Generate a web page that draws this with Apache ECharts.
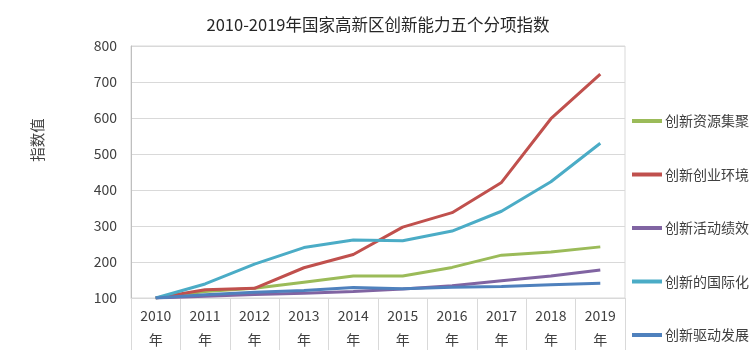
<!DOCTYPE html>
<html>
<head>
<meta charset="utf-8">
<script src="https://cdn.jsdelivr.net/npm/echarts@6/dist/echarts.min.js"></script>
<style>
    html, body { margin: 0; padding: 0; background: #fff; }
    #chart { width: 756px; height: 352px; }
</style>
</head>
<body>
<div id="chart"></div>
<script>
var years = ['2010\n年', '2011\n年', '2012\n年', '2013\n年', '2014\n年', '2015\n年', '2016\n年', '2017\n年', '2018\n年', '2019\n年'];
var resourceData = [100, 118, 127, 144, 161, 161, 185, 219, 228, 242];
var startupData = [100, 123, 127, 184, 221, 297, 337, 421, 598, 722];
var activityData = [100, 105, 110, 113, 118, 125, 134, 148, 161, 178];
var globalData = [100, 139, 194, 240, 261, 259, 286, 341, 423, 530];
var drivingData = [100, 109, 116, 121, 129, 126, 130, 132, 137, 141];
var seriesNames = ['创新资源集聚', '创新创业环境', '创新活动绩效', '创新的国际化', '创新驱动发展'];
var colors = ['#9bbb59', '#c0504d', '#8064a2', '#4bacc6', '#4f81bd'];

var font = '"Noto Sans CJK SC", sans-serif';
var chart = echarts.init(document.getElementById('chart'));

function line(i, data) {
    return {
        name: seriesNames[i],
        type: 'line',
        data: data,
        symbol: 'none',
        smooth: false,
        lineStyle: { width: 3, color: colors[i] },
        itemStyle: { color: colors[i] }
    };
}

var options = {
    backgroundColor: '#fff',
    animation: false,
    title: {
        text: '2010-2019年国家高新区创新能力五个分项指数',
        left: 'center',
        top: 11,
        textStyle: { fontFamily: font, fontSize: 16.5, fontWeight: 'normal', color: '#262626' }
    },
    graphic: [{
        type: 'text',
        x: 37,
        y: 140,
        rotation: Math.PI / 2,
        style: {
            text: '指数值',
            font: '14.5px ' + font,
            fill: '#404040',
            align: 'center',
            verticalAlign: 'middle'
        }
    }],
    legend: {
        orient: 'vertical',
        left: 632,
        top: 111,
        padding: 0,
        itemWidth: 30,
        itemHeight: 4,
        itemGap: 33.5,
        icon: 'rect',
        data: seriesNames,
        textStyle: { fontFamily: font, fontSize: 14, color: '#404040', lineHeight: 20, padding: [0, 0, 0, -2] }
    },
    grid: {
        left: 131,
        right: 131,
        top: 46,
        bottom: 52,
        show: true,
        borderColor: '#d9d9d9',
        borderWidth: 1
    },
    xAxis: {
        type: 'category',
        boundaryGap: true,
        data: years,
        axisLine: { lineStyle: { color: '#d9d9d9', width: 1 } },
        axisTick: { show: true, length: 52, interval: 0, lineStyle: { color: '#d9d9d9' } },
        axisLabel: { interval: 0, margin: 6, fontFamily: font, fontSize: 14, color: '#404040', lineHeight: 24 }
    },
    yAxis: {
        type: 'value',
        min: 100,
        max: 800,
        interval: 100,
        axisLine: { show: true, lineStyle: { color: '#bfbfbf', width: 1 } },
        axisTick: { show: false },
        axisLabel: { margin: 14, fontFamily: font, fontSize: 14, color: '#404040' },
        splitLine: { lineStyle: { color: '#d9d9d9', width: 1 } }
    },
    series: [
        line(0, resourceData),
        line(1, startupData),
        line(2, activityData),
        line(3, globalData),
        line(4, drivingData)
    ]
};
chart.setOption(options);
</script>
</body>
</html>
